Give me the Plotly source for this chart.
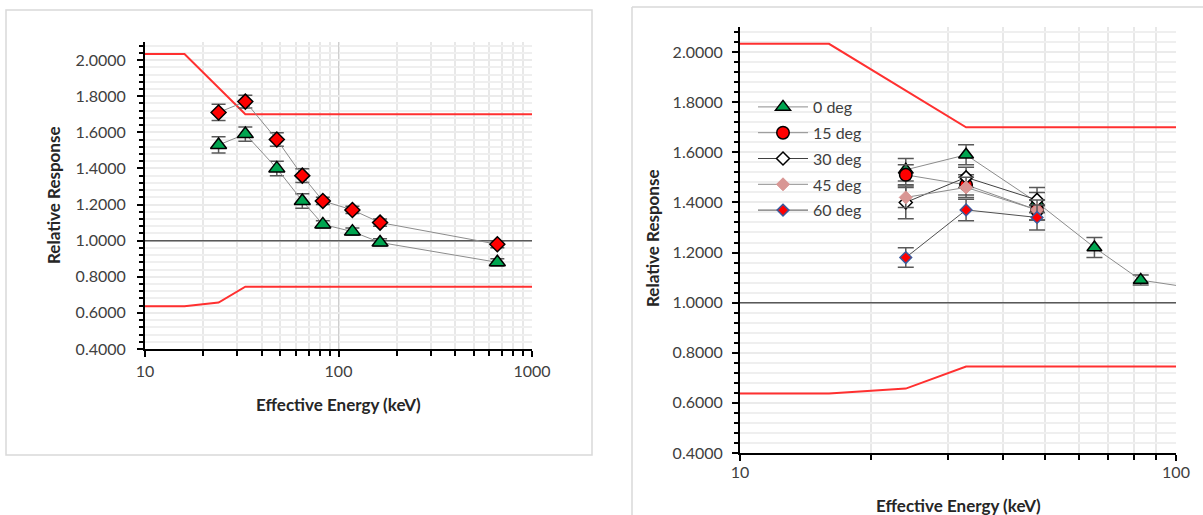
import plotly.graph_objects as go
from plotly.subplots import make_subplots

# ---- data -------------------------------------------------------------
energy_keV = [24, 33, 48, 65, 83, 118, 164, 662]
resp_0deg = [1.53, 1.59, 1.40, 1.22, 1.09, 1.05, 0.99, 0.88]
err_0deg = [0.045, 0.04, 0.04, 0.04, 0.02, 0.02, 0.02, 0.02]
resp_alt = [1.71, 1.77, 1.56, 1.36, 1.22, 1.17, 1.10, 0.98]
err_alt = [0.045, 0.035, 0.037, 0.038, 0.02, 0.02, 0.02, 0.02]

angle_energy = [24, 33, 48]
resp_15deg = [1.51, 1.47, 1.37]
err_15deg = [0.04, 0.04, 0.04]
resp_30deg = [1.40, 1.50, 1.41]
err_30deg = [0.065, 0.04, 0.05]
resp_45deg = [1.42, 1.46, 1.37]
err_45deg = [0.04, 0.04, 0.04]
resp_60deg = [1.18, 1.37, 1.34]
err_60deg = [0.039, 0.043, 0.05]

upper_energy = [10, 16, 33, 1000]
upper_limit = [2.033, 2.033, 1.70, 1.70]
lower_energy = [10, 16, 24, 33, 1000]
lower_limit = [0.637, 0.637, 0.657, 0.745, 0.745]
reference_energy = [10, 1000]
reference_level = [1.0, 1.0]

y_ticks = [0.4, 0.6, 0.8, 1.0, 1.2, 1.4, 1.6, 1.8, 2.0]
x_ticks_left = [10, 100, 1000]
x_ticks_right = [10, 100]

# ---- figure -----------------------------------------------------------
W, H = 1203, 515
FONT = "Lato"
fig = make_subplots(rows=1, cols=2)

LINE_GREY = "#8c8c8c"
ERR_COLOR = "#595959"


def err(vals, width):
    return dict(type="data", array=vals, visible=True, color=ERR_COLOR,
                thickness=1.5, width=width)


def add_limits(col):
    fig.add_trace(go.Scatter(x=reference_energy, y=reference_level, mode="lines",
                             line=dict(color="#595959", width=1.5),
                             showlegend=False, hoverinfo="skip"), row=1, col=col)
    fig.add_trace(go.Scatter(x=upper_energy, y=upper_limit, mode="lines",
                             line=dict(color="#ff3030", width=2),
                             showlegend=False, hoverinfo="skip"), row=1, col=col)
    fig.add_trace(go.Scatter(x=lower_energy, y=lower_limit, mode="lines",
                             line=dict(color="#ff3030", width=2),
                             showlegend=False, hoverinfo="skip"), row=1, col=col)


# left panel
add_limits(1)
fig.add_trace(go.Scatter(
    x=energy_keV, y=resp_alt, mode="lines+markers", showlegend=False,
    line=dict(color=LINE_GREY, width=1),
    marker=dict(symbol="diamond", size=11.5, color="#ff0000",
                line=dict(color="#000000", width=1.5)),
    error_y=err(err_alt, 7)), row=1, col=1)
fig.add_trace(go.Scatter(
    x=energy_keV, y=resp_0deg, mode="lines+markers", showlegend=False,
    line=dict(color=LINE_GREY, width=1),
    marker=dict(symbol="triangle-up", size=14, color="#00a550",
                line=dict(color="#000000", width=1.5)),
    error_y=err(err_0deg, 7)), row=1, col=1)

# right panel
add_limits(2)
series = [
    ("0 deg", energy_keV, resp_0deg, err_0deg,
     dict(symbol="triangle-up", size=13, color="#00a550", line=dict(color="#000000", width=1.5)),
     LINE_GREY),
    ("15 deg", angle_energy, resp_15deg, err_15deg,
     dict(symbol="circle", size=12.5, color="#ff0000", line=dict(color="#000000", width=1.5)),
     LINE_GREY),
    ("30 deg", angle_energy, resp_30deg, err_30deg,
     dict(symbol="diamond", size=10, color="#ffffff", line=dict(color="#000000", width=1.5)),
     "#404040"),
    ("45 deg", angle_energy, resp_45deg, err_45deg,
     dict(symbol="diamond", size=10, color="#d99694", line=dict(color="#d99694", width=1)),
     LINE_GREY),
    ("60 deg", angle_energy, resp_60deg, err_60deg,
     dict(symbol="diamond", size=9, color="#ff0000", line=dict(color="#3a5a9c", width=1.5)),
     "#505050"),
]
for i, (name, xs, ys, es, mk, lc) in enumerate(series):
    fig.add_trace(go.Scatter(
        x=xs, y=ys, name=name, mode="lines+markers", legendgroup=f"g{i}",
        line=dict(color=lc, width=1), marker=mk, error_y=err(es, 8)),
        row=1, col=2)

# ---- axes -------------------------------------------------------------
def px_x(p):
    return p / W


def px_y(p):
    return 1 - p / H


tick_font = dict(family=FONT, size=16, color="#404040")
common_x = dict(
    type="log", showline=True, linecolor="#000000", linewidth=2,
    ticks="outside", ticklen=6, tickcolor="#000000", tickwidth=1.5,
    showgrid=True, gridcolor="#cfcfcf", gridwidth=1, zeroline=False,
    tickfont=tick_font, mirror=False, automargin=False,
    minor=dict(dtick="D1", ticks="outside", ticklen=5, tickcolor="#000000",
               showgrid=True, gridcolor="#e8e8e8", gridwidth=1.5),
)
common_y = dict(
    range=[0.4, 2.1], tickvals=y_ticks, tickformat=".4f", showline=True,
    linecolor="#000000", linewidth=2, ticks="outside", ticklen=6,
    tickcolor="#000000", tickwidth=1.5, showgrid=True, gridcolor="#ebebeb",
    gridwidth=1.5, zeroline=False, tickfont=tick_font, automargin=False,
    minor=dict(dtick=0.04, tick0=0.4, ticks="outside", ticklen=4,
               tickcolor="#000000", showgrid=True, gridcolor="#efefef",
               gridwidth=1.5),
)

fig.update_xaxes(common_x, row=1, col=1, range=[1, 3], tickvals=x_ticks_left,
                 ticktext=[str(v) for v in x_ticks_left],
                 domain=[px_x(145), px_x(532)], ticklabelstandoff=1)
fig.update_xaxes(common_x, row=1, col=2, range=[1, 2], tickvals=x_ticks_right,
                 ticktext=[str(v) for v in x_ticks_right],
                 domain=[px_x(740), px_x(1176)], ticklabelstandoff=-2)
fig.update_yaxes(common_y, row=1, col=1, domain=[px_y(349), px_y(42)],
                 ticklabelstandoff=8)
fig.update_yaxes(common_y, row=1, col=2, domain=[px_y(453), px_y(27)],
                 ticklabelstandoff=6)

# ---- panel frames and axis titles -------------------------------------
frame = dict(color="#d9d9d9", width=1.5)
shapes = [
    dict(type="rect", xref="paper", yref="paper", x0=px_x(6), x1=px_x(592),
         y0=px_y(455), y1=px_y(10), line=frame,
         fillcolor="rgba(0,0,0,0)", layer="below"),
    # right panel runs past the page edge: only its left and top sides show
    dict(type="line", xref="paper", yref="paper", x0=px_x(632), x1=px_x(632),
         y0=0, y1=px_y(7), line=frame, layer="below"),
    dict(type="line", xref="paper", yref="paper", x0=px_x(632), x1=1,
         y0=px_y(7), y1=px_y(7), line=frame, layer="below"),
]

title_font = dict(family=FONT, size=17, color="#262626")
annotations = [
    dict(text="<b>Relative Response</b>", x=px_x(53), y=px_y(195), textangle=-90),
    dict(text="<b>Effective Energy (keV)</b>", x=px_x(338), y=px_y(404)),
    dict(text="<b>Relative Response</b>", x=px_x(652), y=px_y(238), textangle=-90),
    dict(text="<b>Effective Energy (keV)</b>", x=px_x(958), y=px_y(505)),
]
for a in annotations:
    a.update(xref="paper", yref="paper", showarrow=False, font=title_font,
             xanchor="center", yanchor="middle")

fig.update_layout(
    width=W, height=H, margin=dict(l=0, r=0, t=0, b=0, autoexpand=False),
    paper_bgcolor="#ffffff", plot_bgcolor="#ffffff",
    shapes=shapes, annotations=annotations,
    legend=dict(x=px_x(753), y=px_y(90), xanchor="left", yanchor="top",
                bgcolor="rgba(255,255,255,0)", traceorder="grouped",
                itemwidth=50, tracegroupgap=2,
                font=dict(family=FONT, size=16, color="#404040")),
    font=dict(family=FONT),
)

fig.write_html("out.html")
